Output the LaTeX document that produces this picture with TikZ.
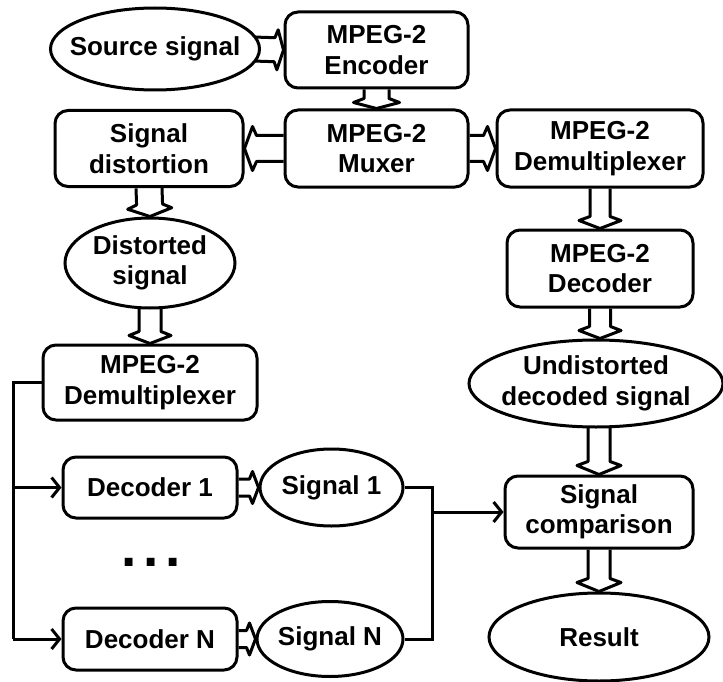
\documentclass[tikz,border=0pt]{standalone}
\usepackage{fontspec}
\setmainfont{Liberation Sans}
\usetikzlibrary{shapes.geometric,calc,backgrounds,arrows.meta}
\tikzset{
  every node/.style={font=\bfseries\fontsize{26}{30.5}\selectfont, align=center},
  box/.style={draw, line width=3pt, rounded corners=13pt, fill=white, inner sep=0pt},
  oval/.style={draw, ellipse, line width=3pt, fill=white, inner sep=0pt},
  conn/.style={line width=3pt},
  hollow/.style={line width=3pt, line join=round},
  barb/.style={-{Straight Barb[length=8pt,width=20pt,line width=3pt]}}
}
% start, tip, half width, flare half width, line-end distance, flare distance
\newcommand\dblarrow[6]{%
  \coordinate (hbA) at ($(#2)!#5!(#1)$);
  \coordinate (hbF) at ($(#2)!#6!(#1)$);
  \draw[hollow] ($(#1)!#3!90:(#2)$) -- ($(hbA)!#3!90:(#2)$) -- ($(hbF)!#4!90:(#2)$) -- (#2)
     -- ($(hbF)!#4!-90:(#2)$) -- ($(hbA)!#3!-90:(#2)$) -- ($(#1)!#3!-90:(#2)$);
}
\begin{document}
\begin{tikzpicture}[x=1pt,y=-1pt]
\useasboundingbox (0,0) rectangle (723,682);
% nodes
\node[oval, minimum width=209pt, minimum height=82pt, label={center:Source signal}] (src) at (155,49) {};
\node[box, minimum width=183pt, minimum height=76pt] (enc) at (376.5,50) {MPEG-2\\Encoder};
\node[box, minimum width=183pt, minimum height=77pt] (mux) at (376.5,148.5) {MPEG-2\\Muxer};
\node[box, minimum width=188pt, minimum height=76pt] (sdis) at (149,148.5) {Signal\\distortion};
\node[box, minimum width=206pt, minimum height=77pt] (dmxR) at (600,148.5) {MPEG-2\\Demultiplexer};
\node[box, minimum width=186pt, minimum height=77pt] (dec) at (600,268.5) {MPEG-2\\Decoder};
\node[oval, minimum width=254pt, minimum height=87pt, label={[align=center]center:Undistorted\\decoded signal}] (und) at (596,383.5) {};
\node[box, minimum width=188pt, minimum height=72pt] (cmp) at (599,512) {Signal\\comparison};
\node[oval, minimum width=220pt, minimum height=88pt, label={center:Result}] (res) at (599,637) {};
\node[oval, minimum width=170pt, minimum height=90pt, label={[align=center]center:Distorted\\signal}] (dsig) at (150,263) {};
\node[box, minimum width=214pt, minimum height=75pt] (dmxL) at (150,382.5) {MPEG-2\\Demultiplexer};
\node[box, minimum width=174pt, minimum height=61pt] (d1) at (150,487.5) {Decoder 1};
\node[box, minimum width=174pt, minimum height=62pt] (dN) at (150,639) {Decoder N};
\node[oval, minimum width=143pt, minimum height=77pt, label={center:Signal 1}] (s1) at (331.5,487.5) {};
\node[oval, minimum width=146pt, minimum height=75pt, label={center:Signal N}] (sN) at (330,639) {};
\node[font=\bfseries\fontsize{55}{55}\selectfont] (dots) at (151,562) {.\hspace{7pt}.\hspace{7pt}.};
% helper coordinates
\coordinate (srcE) at ($(src.east)+(-8,0)$);
\coordinate (dsigS) at ($(dsig.south)+(0,-8)$);
\coordinate (undN) at (und.north -| dec.south);
\coordinate (undS) at ($(und.south -| cmp.north)+(0,-8)$);
\coordinate (busT) at (13,382.5);
\coordinate (bus1) at (13,487.5);
\coordinate (busB) at (13,639);
\coordinate (jx) at (432,512);
\begin{pgfonlayer}{background}
\dblarrow{srcE}{enc.west}{12pt}{20pt}{9pt}{6pt}
\dblarrow{enc.south}{mux.north}{12.5pt}{23pt}{10pt}{6pt}
\dblarrow{mux.west}{sdis.east}{13pt}{22pt}{12pt}{8pt}
\dblarrow{mux.east}{dmxR.west}{13pt}{22pt}{12pt}{8pt}
\dblarrow{sdis.south}{dsig.north}{13pt}{22pt}{12pt}{8pt}
\dblarrow{dsigS}{dmxL.north}{11pt}{21pt}{12pt}{8pt}
\dblarrow{dmxR.south}{dec.north}{10pt}{21pt}{12pt}{8pt}
\dblarrow{dec.south}{undN}{10.5pt}{21pt}{12pt}{8pt}
\dblarrow{undS}{cmp.north}{11pt}{22pt}{13pt}{9pt}
\dblarrow{cmp.south}{res.north}{11pt}{22pt}{13pt}{9pt}
\dblarrow{d1.east}{s1.west}{8.5pt}{16pt}{9pt}{6pt}
\dblarrow{dN.east}{sN.west}{8.5pt}{16pt}{9pt}{6pt}
\end{pgfonlayer}
% connectors
\draw[conn] (dmxL.west) -- (busT) -- (busB);
\draw[conn,barb] (busB) -- (dN.west);
\draw[conn,barb] (bus1) -- (d1.west);
\draw[conn] (s1.east) -| (jx) |- (sN.east);
\draw[conn,barb] (jx) -- (cmp.west);
\end{tikzpicture}
\end{document}
